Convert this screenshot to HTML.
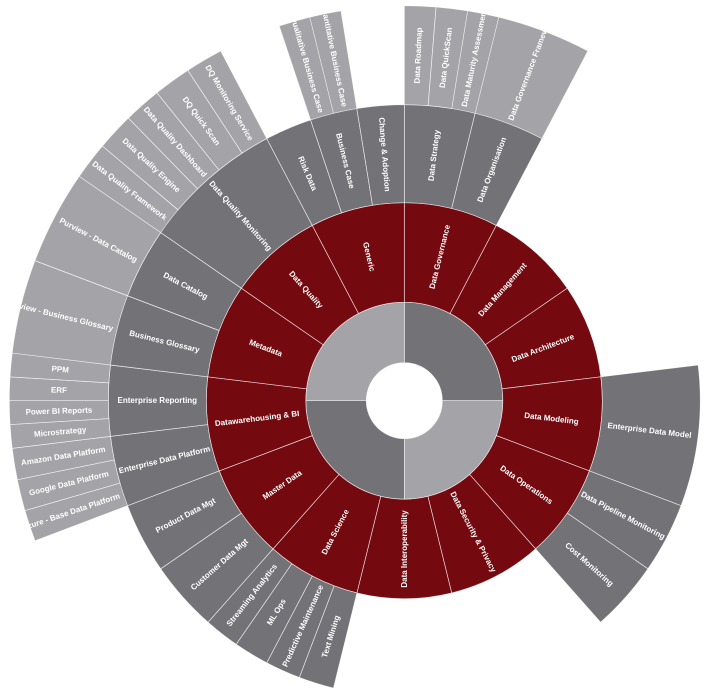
<!DOCTYPE html>
<html><head><meta charset="utf-8"><style>
html,body{margin:0;padding:0;background:#fff;}
svg{display:block;}
text{font-family:"Liberation Sans",sans-serif;font-weight:bold;fill:#fff;font-size:8px;}
</style></head><body>
<svg id="chart" width="707" height="696" viewBox="0 0 707 696" xmlns="http://www.w3.org/2000/svg"></svg>
<script>
const level1Names = ["q1","q2","q3","q4"];
const level2Names = ["Data Governance","Data Management","Data Architecture","Data Modeling","Data Operations","Data Security & Privacy","Data Interoperability","Data Science","Master Data","Datawarehousing & BI","Metadata","Data Quality","Generic"];
const level2Values = [1,1,1,1,1,1,1,1,1,1,1,1,1];
const level3Names = ["Data Strategy","Data Organisation","Enterprise Data Model","Data Pipeline Monitoring","Cost Monitoring","Text Mining","Predictive Maintenance","ML Ops","Streaming Analytics","Customer Data Mgt","Product Data Mgt","Enterprise Data Platform","Enterprise Reporting","Business Glossary","Data Catalog","Data Quality Monitoring","Risk Data","Business Case","Change & Adoption"];
const level3Parents = [0,0,3,4,4,7,7,7,7,8,8,9,9,10,10,11,12,12,12];
const level4Names = ["Data Roadmap","Data QuickScan","Data Maturity Assessment","Data Governance Framework","Azure - Base Data Platform","Google Data Platform","Amazon Data Platform","Microstrategy","Power BI Reports","ERF","PPM","Purview - Business Glossary","Purview - Data Catalog","Data Quality Framework","Data Quality Engine","Data Quality Dashboard","DQ Quick Scan","DQ Monitoring Service","Qualitative Business Case","Quantitative Business Case"];
const level4Parents = [0,0,0,1,11,11,11,12,12,12,12,13,14,15,15,15,15,15,17,17];

const CX=404.3, CY=400.7;
const R=[38,98.5,198,296,395];
const svg=document.getElementById('chart');
const NS="http://www.w3.org/2000/svg";
const rad=d=>d*Math.PI/180;
function pt(r,a){return [CX+r*Math.sin(rad(a)), CY-r*Math.cos(rad(a))];}
function arcPath(r0,r1,a0,a1){
  const large=(a1-a0)>180?1:0;
  const p0=pt(r1,a0),p1=pt(r1,a1),p2=pt(r0,a1),p3=pt(r0,a0);
  return `M${p0[0]},${p0[1]}A${r1},${r1} 0 ${large} 1 ${p1[0]},${p1[1]}L${p2[0]},${p2[1]}A${r0},${r0} 0 ${large} 0 ${p3[0]},${p3[1]}Z`;
}
const defs=document.createElementNS(NS,'defs');svg.appendChild(defs);
let clipId=0;
function seg(r0,r1,a0,a1,fill,label,name,outer){
  const g=document.createElementNS(NS,'g');
  
  
  const d=arcPath(r0,r1,a0,a1);
  const p=document.createElementNS(NS,'path');
  p.setAttribute('d',d);p.setAttribute('fill',fill);
  p.setAttribute('stroke','#ffffff');p.setAttribute('stroke-width','0.7');p.setAttribute('stroke-opacity','0.75');
  
  
  g.appendChild(p);
  svg.appendChild(g);
  if(label){
    const am=(a0+a1)/2;
    const rot=am<180?am-90:am+90;
    const t=document.createElementNS(NS,'text');
    t.setAttribute('dominant-baseline','central');
    
    
    t.textContent=label;
    g.appendChild(t);
    const L=t.getComputedTextLength();
    let x,y;
    if(outer && L>(r1-r0-8)){
      [x,y]=pt(r0+4,am);
      t.setAttribute('text-anchor',am<180?'start':'end');
      const cid='c'+(clipId++);
      const cp=document.createElementNS(NS,'clipPath');cp.setAttribute('id',cid);
      const cpp=document.createElementNS(NS,'path');cpp.setAttribute('d',d);cp.appendChild(cpp);defs.appendChild(cp);
      g.setAttribute('clip-path',`url(#${cid})`);
      p.removeAttribute('clip-path');
    } else {
      [x,y]=pt((r0+r1)/2,am);
      t.setAttribute('text-anchor','middle');
    }
    t.setAttribute('x',x);t.setAttribute('y',y);
    t.setAttribute('transform',`rotate(${rot} ${x} ${y})`);
  }
}
const slug=s=>s.toLowerCase().replace(/[^a-z0-9]+/g,'-').replace(/^-|-$/g,'');
const q1c=['#737277','#a4a3a7','#737277','#a4a3a7'];
level1Names.forEach((n,i)=>seg(R[0],R[1],i*90,(i+1)*90,q1c[i],null,'quadrant-'+(i+1),false));
const total2=level2Values.reduce((a,b)=>a+b,0);
const l2a=[];let acc=0;
level2Names.forEach((n,i)=>{const a0=acc/total2*360;acc+=level2Values[i];const a1=acc/total2*360;l2a.push([a0,a1]);seg(R[1],R[2],a0,a1,'#740a10',n,'category-'+slug(n),false);});
const l3a=[];
level3Names.forEach((n,i)=>{
  const p=level3Parents[i];const sib=level3Parents.map((q,j)=>q===p?j:-1).filter(j=>j>=0);
  const k=sib.indexOf(i);const [a0,a1]=l2a[p];const w=(a1-a0)/sib.length;
  const b0=a0+k*w,b1=b0+w;l3a.push([b0,b1]);
  seg(R[2],R[3],b0,b1,'#737277',n,'topic-'+slug(n),false);
});
level4Names.forEach((n,i)=>{
  const p=level4Parents[i];const sib=level4Parents.map((q,j)=>q===p?j:-1).filter(j=>j>=0);
  const k=sib.indexOf(i);const [a0,a1]=l3a[p];const w=(a1-a0)/sib.length;
  const b0=a0+k*w,b1=b0+w;
  seg(R[3],R[4],b0,b1,'#a4a3a7',n,'item-'+slug(n),true);
});
</script>
</body></html>
